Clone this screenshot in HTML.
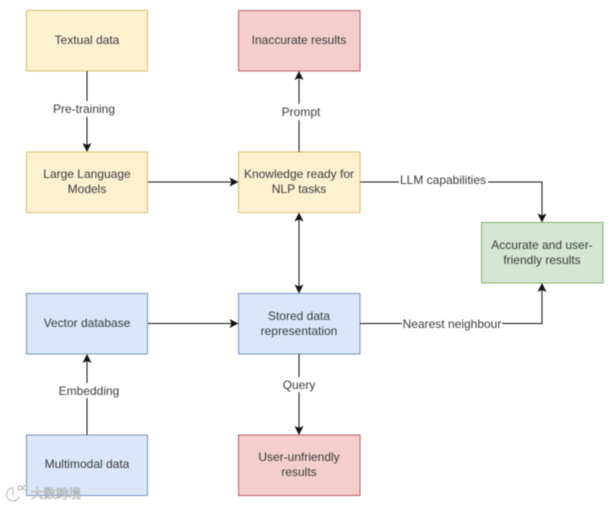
<!DOCTYPE html>
<html>
<head>
<meta charset="utf-8">
<style>
html,body{margin:0;padding:0;background:#fff;}
svg{display:block;filter:blur(0.45px);}
text{font-family:"Liberation Sans",sans-serif;font-size:12px;fill:#3a3a3a;text-anchor:middle;}
.y{fill:#fdf1d0;stroke:#d8bd6c;}
.r{fill:#f3cecc;stroke:#b9605c;}
.b{fill:#dbe7f9;stroke:#7493c0;}
.g{fill:#d6e5d4;stroke:#8ab273;}
.l{fill:none;stroke:#111;stroke-width:1;}
.a{fill:#111;stroke:none;}
.w{fill:#fff;stroke:none;}
</style>
</head>
<body>
<svg width="614" height="506" viewBox="0 0 614 506" xmlns="http://www.w3.org/2000/svg">
<rect width="614" height="506" fill="#fff"/>

<rect class="y" x="26.5" y="10.500" width="121" height="60.500"/>
<rect class="r" x="238.500" y="10.500" width="121.500" height="60.500"/>
<rect class="y" x="26.5" y="152" width="121" height="60.500"/>
<rect class="y" x="238.500" y="152" width="121.500" height="60.500"/>
<rect class="g" x="481.500" y="222.500" width="121.500" height="60.500"/>
<rect class="b" x="26.5" y="293.500" width="121" height="60.500"/>
<rect class="b" x="238.500" y="293.500" width="121.500" height="60.500"/>
<rect class="b" x="26.5" y="435" width="121" height="60.500"/>
<rect class="r" x="238.500" y="435" width="121.500" height="60.500"/>

<path class="l" d="M87 71V146"/>
<polygon class="a" points="87,152 82.500,143 87,145 91.500,143"/>
<path class="l" d="M148 182H233"/>
<polygon class="a" points="238.500,182 229.500,177.500 231.500,182 229.500,186.500"/>
<path class="l" d="M299 152V77"/>
<polygon class="a" points="299,71 294.500,80 299,78 303.500,80"/>
<path class="l" d="M299 219V287"/>
<polygon class="a" points="299,212.500 294.500,221.500 299,219.500 303.500,221.500"/>
<polygon class="a" points="299,293.500 294.500,284.500 299,286.500 303.500,284.500"/>
<path class="l" d="M360 182H542V216"/>
<polygon class="a" points="542,222.500 537.500,213.500 542,215.500 546.500,213.500"/>
<path class="l" d="M360 323.500H542V289"/>
<polygon class="a" points="542,283 537.500,292 542,290 546.500,292"/>
<path class="l" d="M148 323.500H233"/>
<polygon class="a" points="238.500,323.500 229.500,319 231.500,323.500 229.500,328"/>
<path class="l" d="M87 435V360"/>
<polygon class="a" points="87,354 82.500,363 87,361 91.500,363"/>
<path class="l" d="M299 354V429"/>
<polygon class="a" points="299,435 294.500,426 299,428 303.500,426"/>

<rect class="w" x="52" y="101" width="65" height="16"/>
<rect class="w" x="280" y="104" width="42" height="16"/>
<rect class="w" x="399" y="172" width="89" height="15"/>
<rect class="w" x="402" y="316" width="100" height="15"/>
<rect class="w" x="58" y="383" width="62" height="15"/>
<rect class="w" x="282" y="377" width="35" height="15"/>

<text x="87" y="44">Textual data</text>
<text x="299" y="44">Inaccurate results</text>
<text x="87" y="178">Large Language</text>
<text x="87" y="193">Models</text>
<text x="299" y="178">Knowledge ready for</text>
<text x="299" y="193">NLP tasks</text>
<text x="542" y="249">Accurate and user-</text>
<text x="542" y="264">friendly results</text>
<text x="87" y="327">Vector database</text>
<text x="299" y="320">Stored data</text>
<text x="299" y="335">representation</text>
<text x="87" y="468">Multimodal data</text>
<text x="299" y="461">User-unfriendly</text>
<text x="299" y="476">results</text>

<text x="84" y="113">Pre-training</text>
<text x="301" y="116">Prompt</text>
<text x="443" y="184">LLM capabilities</text>
<text x="452" y="328">Nearest neighbour</text>
<text x="89" y="395">Embedding</text>
<text x="299" y="389">Query</text>

<g opacity="0.9">
<path d="M12 488a6.500 6.500 0 1 0 7 9" fill="none" stroke="#fff" stroke-width="3"/>
<path d="M12 488a6.500 6.500 0 1 0 7 9" fill="none" stroke="#aaa" stroke-width="1"/>
<path d="M13 487V496" fill="none" stroke="#aaa" stroke-width="1"/>
<circle cx="20" cy="488" r="2" fill="#fff" stroke="#aaa"/>
<circle cx="25" cy="488" r="2" fill="#fff" stroke="#aaa"/>
<text x="56" y="498" style="font-family:'Liberation Sans','Noto Sans CJK SC',sans-serif;font-size:12.500px;fill:#fff;stroke:#a5a5a5;stroke-width:0.6px;">大数跨境</text>
</g>
</svg>
</body>
</html>
